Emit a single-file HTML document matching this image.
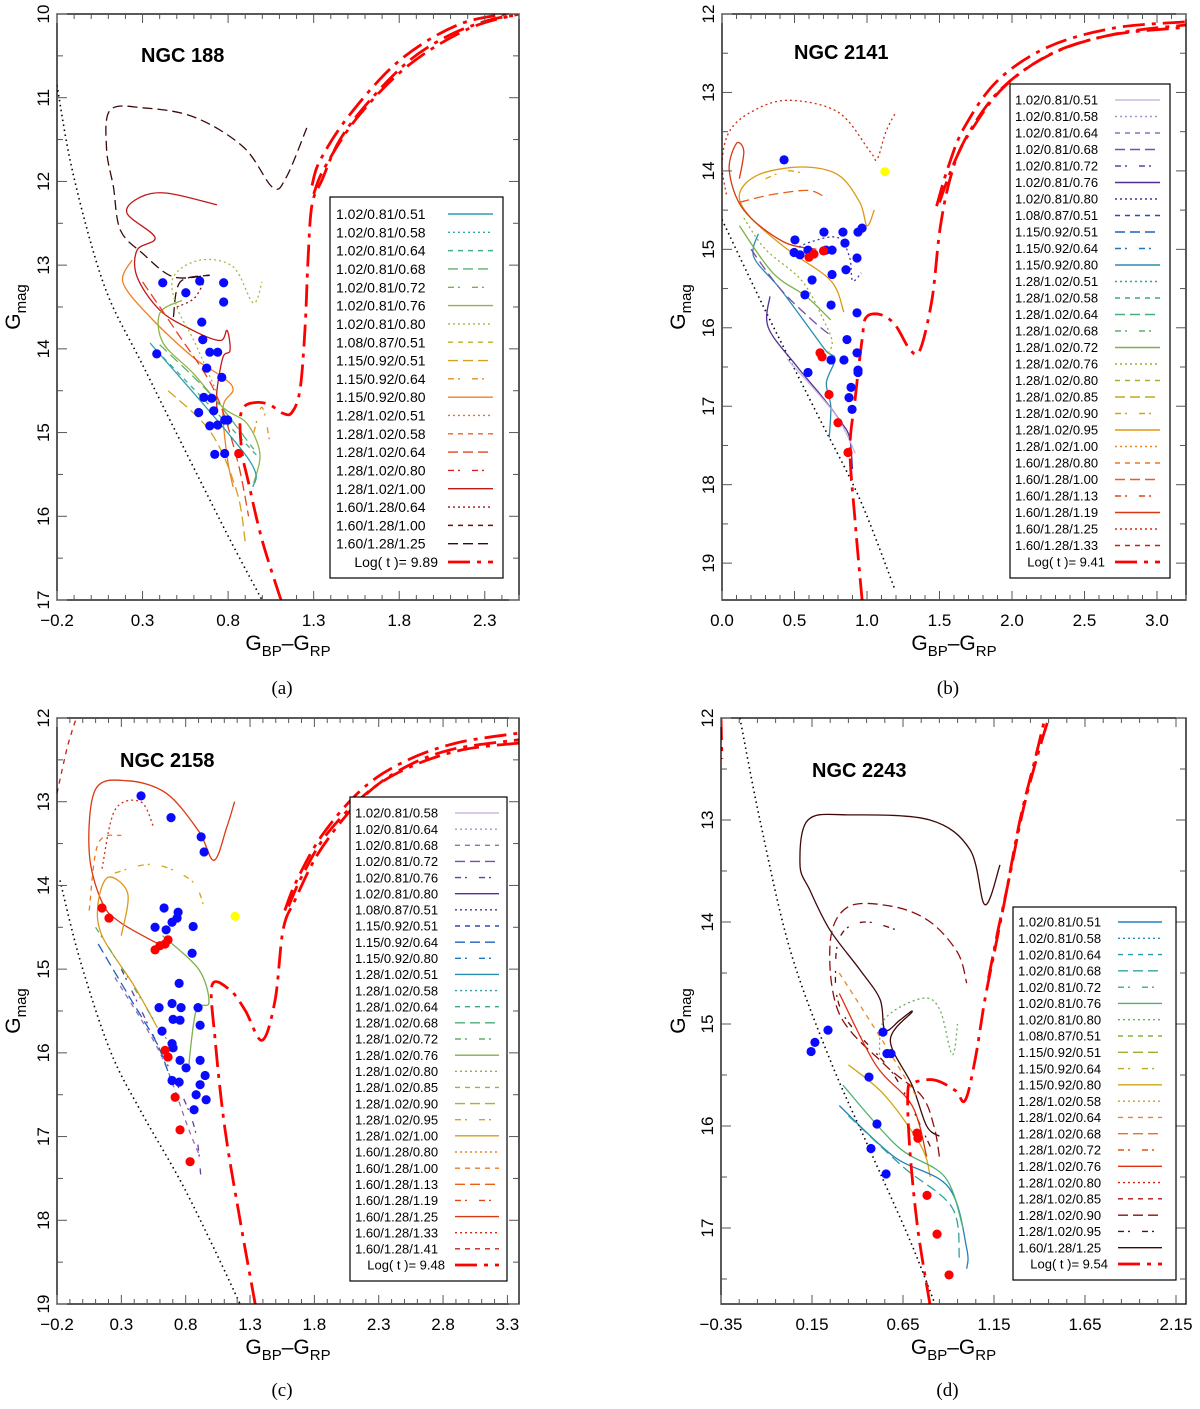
<!DOCTYPE html>
<html><head><meta charset="utf-8"><title>CMD panels</title>
<style>
html,body{margin:0;padding:0;background:#fff;}
svg{display:block;font-family:"Liberation Sans",sans-serif;}
.cap{font-family:"Liberation Serif",serif;font-size:19px;}
</style></head>
<body>
<svg id="fig" width="1200" height="1409" viewBox="0 0 1200 1409" xmlns="http://www.w3.org/2000/svg"></svg>
<script>
// ================= DATA =================
// Panel A: NGC 188
const aBlueX=[0.418,0.634,0.774,0.553,0.774,0.383,0.646,0.652,0.693,0.739,0.675,0.763,0.658,0.704,0.716,0.628,0.739,0.693,0.780,0.798,0.722,0.780];
const aBlueY=[13.21,13.19,13.21,13.33,13.44,14.06,13.68,13.89,14.04,14.04,14.23,14.34,14.58,14.59,14.74,14.76,14.91,14.92,14.85,14.85,15.26,15.25];
const aRedX=[0.862];
const aRedY=[15.25];
const aYelX=[];
const aYelY=[];
const aIso=[[1.109,17.0],[0.998,16.28],[0.916,15.57],[0.881,15.24],[0.870,14.85],[0.899,14.68],[0.975,14.64],[1.045,14.67],[1.121,14.77],[1.173,14.76],[1.220,14.49],[1.249,13.78],[1.267,12.94],[1.290,12.28],[1.349,11.98],[1.454,11.50],[1.629,11.03],[1.863,10.55],[2.097,10.25],[2.331,10.07],[2.5,10.01]];
const aIso2=[[1.290,12.05],[1.337,11.75],[1.512,11.20],[1.805,10.55],[2.155,10.12],[2.5,9.98]];
const aIso3=[[1.300,12.15],[1.36,11.85],[1.55,11.25],[1.85,10.62],[2.2,10.18],[2.5,10.0]];
const aZams=[[-0.2,10.85],[-0.124,11.74],[-0.007,12.70],[0.110,13.42],[0.285,14.13],[0.460,14.85],[0.636,15.57],[0.811,16.28],[0.998,17.0]];
const aLegend=["1.02/0.81/0.51","1.02/0.81/0.58","1.02/0.81/0.64","1.02/0.81/0.68","1.02/0.81/0.72","1.02/0.81/0.76","1.02/0.81/0.80","1.08/0.87/0.51","1.15/0.92/0.51","1.15/0.92/0.64","1.15/0.92/0.80","1.28/1.02/0.51","1.28/1.02/0.58","1.28/1.02/0.64","1.28/1.02/0.80","1.28/1.02/1.00","1.60/1.28/0.64","1.60/1.28/1.00","1.60/1.28/1.25"];
const aAge="Log( t )= 9.89";
const aTrackIdx=[18,15,6,10,5,0,3,13,8,16,2,9];
const aTrackPts=[
 [[0.48,13.62],[0.52,13.2],[0.69,13.12],[0.48,13.14],[0.30,12.86],[0.17,12.58],[0.13,12.07],[0.09,11.62],[0.11,11.15],[0.30,11.12],[0.60,11.23],[0.89,11.59],[1.06,12.07],[1.14,11.95],[1.26,11.36]],
 [[0.735,12.28],[0.443,12.14],[0.285,12.19],[0.209,12.38],[0.373,12.67],[0.268,12.82],[0.268,13.14],[0.402,13.54],[0.595,13.78],[0.753,13.90],[0.794,13.78],[0.811,14.02],[0.770,14.10],[0.735,14.49],[0.735,14.73]],
 [[0.73,14.5],[0.60,13.9],[0.50,13.5],[0.48,13.14],[0.636,12.94],[0.829,13.02],[0.946,13.45],[0.998,13.20]],
 [[0.238,12.94],[0.186,13.21],[0.344,13.62],[0.595,14.10],[0.770,14.34],[0.829,14.49],[0.770,14.70],[0.794,15.29],[0.829,15.65]],
 [[0.531,13.42],[0.402,13.57],[0.420,13.93],[0.595,14.29],[0.770,14.70],[0.910,14.89],[0.986,15.25],[0.95,15.6]],
 [[0.344,13.93],[0.91,15.29],[0.946,15.65]],
 [[0.40,13.95],[0.70,14.55],[0.95,15.2]],
 [[0.30,13.2],[0.50,13.8],[0.72,14.5],[0.85,15.3],[0.92,16.0]],
 [[0.45,14.5],[0.70,15.0],[0.85,15.7],[0.90,16.3]],
 [[0.50,13.5],[0.60,13.4],[0.66,13.2]],
 [[0.42,14.1],[0.75,14.8],[0.98,15.3]],
 [[0.95,15.0],[1.00,14.7],[1.05,15.2]]
];

// Panel B: NGC 2141
const bBlueX=[0.428,0.503,0.703,0.834,0.938,0.966,0.497,0.538,0.593,0.717,0.759,0.848,0.931,0.621,0.572,0.759,0.855,0.752,0.931,0.862,0.931,0.841,0.938,0.593,0.938,0.890,0.876,0.897,0.752];
const bBlueY=[13.86,14.88,14.78,14.78,14.78,14.73,15.04,15.07,15.01,15.01,15.01,14.92,15.11,15.39,15.58,15.32,15.26,15.71,15.81,16.15,16.32,16.41,16.54,16.57,16.57,16.76,16.89,17.04,16.41];
const bRedX=[0.676,0.69,0.738,0.80,0.869,0.634,0.60,0.70];
const bRedY=[16.32,16.37,16.85,17.21,17.59,15.06,15.10,15.02];
const bYelX=[1.124];
const bYelY=[14.01];
const bIso=[[0.966,19.47],[0.917,18.45],[0.883,17.55],[0.917,16.92],[0.966,16.15],[0.993,15.87],[1.09,15.83],[1.193,15.96],[1.297,16.28],[1.366,16.28],[1.448,15.64],[1.503,14.75],[1.572,14.11],[1.676,13.60],[1.917,12.97],[2.262,12.52],[2.676,12.27],[3.2,12.17]];
const bIso2=[[1.48,14.45],[1.56,13.95],[1.67,13.45],[1.90,12.85],[2.25,12.42],[2.70,12.18],[3.2,12.1]];
const bIso3=[[1.50,14.40],[1.60,13.90],[1.72,13.48],[1.95,12.92],[2.30,12.48],[2.75,12.24],[3.2,12.14]];
const bZams=[[0,14.62],[0.262,15.64],[0.469,16.41],[0.676,17.17],[0.952,18.19],[1.193,19.34]];
const bLegend=["1.02/0.81/0.51","1.02/0.81/0.58","1.02/0.81/0.64","1.02/0.81/0.68","1.02/0.81/0.72","1.02/0.81/0.76","1.02/0.81/0.80","1.08/0.87/0.51","1.15/0.92/0.51","1.15/0.92/0.64","1.15/0.92/0.80","1.28/1.02/0.51","1.28/1.02/0.58","1.28/1.02/0.64","1.28/1.02/0.68","1.28/1.02/0.72","1.28/1.02/0.76","1.28/1.02/0.80","1.28/1.02/0.85","1.28/1.02/0.90","1.28/1.02/0.95","1.28/1.02/1.00","1.60/1.28/0.80","1.60/1.28/1.00","1.60/1.28/1.13","1.60/1.28/1.19","1.60/1.28/1.25","1.60/1.28/1.33"];
const bAge="Log( t )= 9.41";
const bTrackIdx=[26,20,25,10,5,0,16,15,6,23,3,19];
const bTrackPts=[
 [[0.03,14.3],[0.0,13.9],[0.05,13.5],[0.2,13.25],[0.45,13.1],[0.80,13.25],[1.02,13.75],[1.07,13.85],[1.13,13.5],[1.2,13.25]],
 [[0.84,15.8],[0.75,15.4],[0.45,15.0],[0.2,14.6],[0.12,14.3],[0.25,14.05],[0.55,13.95],[0.80,14.05],[0.95,14.4],[1.0,14.7],[1.05,14.5]],
 [[0.65,15.0],[0.42,14.9],[0.15,14.5],[0.05,14.0],[0.10,13.65],[0.15,13.75],[0.12,14.1]],
 [[0.25,14.8],[0.22,15.1],[0.40,15.5],[0.62,16.05],[0.72,16.3],[0.78,16.4],[0.72,16.7],[0.75,17.0],[0.74,17.4]],
 [[0.33,15.6],[0.32,16.0],[0.52,16.5],[0.70,16.9],[0.82,17.2],[0.88,17.4],[0.90,17.8]],
 [[0.45,16.4],[0.78,17.1],[0.92,17.6]],
 [[0.15,14.6],[0.30,15.0],[0.55,15.4],[0.70,15.9],[0.76,16.2],[0.70,16.4]],
 [[0.12,14.7],[0.35,15.3],[0.58,15.6],[0.75,15.9]],
 [[0.5,15.0],[0.62,14.9],[0.80,14.85],[0.88,15.1],[0.90,15.4],[0.96,15.3]],
 [[0.12,14.4],[0.35,14.3],[0.60,14.25],[0.72,14.35]],
 [[0.20,15.0],[0.40,15.5],[0.62,15.9],[0.75,16.1]],
 [[0.30,14.1],[0.45,14.0],[0.60,14.05]]
];

// Panel C: NGC 2158
const cBlueX=[0.453,0.686,0.920,0.943,0.632,0.741,0.694,0.733,0.858,0.562,0.648,0.850,0.749,0.694,0.764,0.593,0.702,0.756,0.616,0.896,0.912,0.694,0.702,0.756,0.912,0.951,0.749,0.694,0.912,0.881,0.959,0.803,0.865];
const cBlueY=[12.93,13.19,13.42,13.60,14.27,14.32,14.44,14.39,14.49,14.50,14.53,14.81,15.17,15.41,15.46,15.46,15.60,15.61,15.74,15.46,15.67,15.89,15.94,16.09,16.09,16.27,16.35,16.33,16.38,16.50,16.56,16.18,16.68];
const cRedX=[0.15,0.204,0.562,0.60,0.64,0.663,0.64,0.663,0.718,0.756,0.834];
const cRedY=[14.27,14.39,14.77,14.72,14.70,14.65,15.97,16.05,16.53,16.92,17.30];
const cYelX=[1.184];
const cYelY=[14.37];
const cIso=[[1.34,19.0],[1.223,18.0],[1.106,16.92],[1.029,15.85],[1.005,15.19],[1.145,15.25],[1.262,15.49],[1.394,15.85],[1.495,15.37],[1.557,14.53],[1.651,14.17],[1.845,13.58],[2.156,12.98],[2.467,12.62],[2.856,12.38],[3.39,12.26]];
const cIso2=[[1.57,14.30],[1.66,13.95],[1.86,13.40],[2.17,12.85],[2.5,12.52],[2.9,12.30],[3.39,12.18]];
const cIso3=[[1.60,14.25],[1.70,13.90],[1.90,13.38],[2.22,12.88],[2.55,12.58],[2.95,12.38],[3.39,12.3]];
const cZams=[[-0.177,13.94],[-0.021,14.89],[0.212,15.97],[0.445,16.68],[0.756,17.52],[0.99,18.24],[1.223,19.0]];
const cLegend=["1.02/0.81/0.58","1.02/0.81/0.64","1.02/0.81/0.68","1.02/0.81/0.72","1.02/0.81/0.76","1.02/0.81/0.80","1.08/0.87/0.51","1.15/0.92/0.51","1.15/0.92/0.64","1.15/0.92/0.80","1.28/1.02/0.51","1.28/1.02/0.58","1.28/1.02/0.64","1.28/1.02/0.68","1.28/1.02/0.72","1.28/1.02/0.76","1.28/1.02/0.80","1.28/1.02/0.85","1.28/1.02/0.90","1.28/1.02/0.95","1.28/1.02/1.00","1.60/1.28/0.80","1.60/1.28/1.00","1.60/1.28/1.13","1.60/1.28/1.19","1.60/1.28/1.25","1.60/1.28/1.33","1.60/1.28/1.41"];
const cAge="Log( t )= 9.48";
const cTrackIdx=[25,27,19,20,4,2,8,14,26,22,15];
const cTrackPts=[
 [[0.65,14.75],[0.3,14.45],[0.15,14.2],[0.05,13.6],[0.10,12.85],[0.35,12.75],[0.65,12.9],[0.90,13.35],[1.02,13.7],[1.12,13.3],[1.18,13.0]],
 [[-0.2,12.9],[-0.12,12.35],[-0.05,12.0]],
 [[0.25,13.85],[0.55,13.75],[0.85,13.95],[0.95,14.3]],
 [[0.58,15.7],[0.40,15.2],[0.15,14.6],[0.12,14.2],[0.20,13.9],[0.35,14.1],[0.30,14.6]],
 [[0.30,15.0],[0.55,15.8],[0.85,16.8],[0.92,17.5]],
 [[0.25,15.1],[0.60,16.0],[0.82,16.9],[0.90,17.2]],
 [[0.12,14.7],[0.35,15.3],[0.58,15.9],[0.70,16.4]],
 [[0.1,14.5],[0.35,15.1],[0.55,15.6],[0.68,15.9]],
 [[0.15,13.8],[0.25,13.1],[0.45,13.0],[0.55,13.3]],
 [[0.05,14.3],[0.12,13.5],[0.30,13.4]],
 [[0.62,14.6],[0.90,15.0],[0.98,15.4],[0.88,15.5],[0.82,16.2]]
];

// Panel D: NGC 2243
const dBlueX=[0.166,0.145,0.238,0.540,0.562,0.584,0.463,0.507,0.474,0.557];
const dBlueY=[15.18,15.27,15.06,15.08,15.29,15.29,15.52,15.98,16.22,16.47];
const dRedX=[0.727,0.732,0.782,0.837,0.903];
const dRedY=[16.07,16.12,16.68,17.06,17.46];
const dYelX=[];
const dYelY=[];
const dIso=[[0.798,17.745],[0.732,17.02],[0.688,16.24],[0.677,15.65],[0.716,15.57],[0.826,15.55],[0.936,15.65],[0.991,15.75],[1.046,15.35],[1.10,14.76],[1.155,14.27],[1.21,13.78],[1.293,13.0],[1.375,12.41],[1.43,12.0]];
const dIso2=[[1.12,14.55],[1.17,14.1],[1.23,13.6],[1.31,12.9],[1.40,12.3],[1.46,11.95]];
const dIso3=[[-0.35,12.0],[-0.345,12.4]];
const dZams=[[-0.246,12.0],[-0.136,13.0],[0.029,14.27],[0.249,15.35],[0.469,16.24],[0.688,17.12],[0.826,17.745]];
const dLegend=["1.02/0.81/0.51","1.02/0.81/0.58","1.02/0.81/0.64","1.02/0.81/0.68","1.02/0.81/0.72","1.02/0.81/0.76","1.02/0.81/0.80","1.08/0.87/0.51","1.15/0.92/0.51","1.15/0.92/0.64","1.15/0.92/0.80","1.28/1.02/0.58","1.28/1.02/0.64","1.28/1.02/0.68","1.28/1.02/0.72","1.28/1.02/0.76","1.28/1.02/0.80","1.28/1.02/0.85","1.28/1.02/0.90","1.28/1.02/0.95","1.60/1.28/1.25"];
const dAge="Log( t )= 9.54";
const dTrackIdx=[20,18,19,6,10,15,0,5,3,12];
const dTrackPts=[
 [[0.85,16.1],[0.78,16.0],[0.70,15.6],[0.58,15.16],[0.70,14.88],[0.634,14.96],[0.551,15.06],[0.524,14.76],[0.414,14.47],[0.249,14.08],[0.139,13.69],[0.084,13.44],[0.128,13.0],[0.359,12.95],[0.798,13.0],[1.018,13.29],[1.10,13.83],[1.183,13.44]],
 [[0.85,16.3],[0.82,16.0],[0.75,15.7],[0.55,15.4],[0.30,14.9],[0.25,14.2],[0.35,13.85],[0.60,13.85],[0.80,14.0],[0.95,14.3],[1.0,14.6]],
 [[0.80,16.2],[0.60,15.5],[0.32,14.9],[0.28,14.4],[0.32,14.1],[0.45,14.0],[0.65,14.1]],
 [[0.52,15.3],[0.55,14.95],[0.75,14.75],[0.85,14.85],[0.92,15.3],[0.95,15.0]],
 [[0.35,15.4],[0.55,15.7],[0.75,16.2],[0.80,16.5]],
 [[0.30,14.7],[0.50,15.4],[0.70,15.8],[0.78,16.3]],
 [[0.30,15.8],[0.60,16.3],[0.90,16.6],[1.0,17.2],[1.0,17.4]],
 [[0.32,15.6],[0.62,16.2],[0.88,16.5],[0.98,17.0]],
 [[0.35,15.9],[0.65,16.4],[0.92,16.8],[0.96,17.3]],
 [[0.30,14.5],[0.55,15.2],[0.72,15.7]]
];

// ================= STYLE / LAYOUT =================
const panels=[
 {key:'a',title:'NGC 188',cap:'(a)',x0:57,x1:519,y0:14,y1:600,xmin:-0.2,xmax:2.5,ymin:10,ymax:17,xt0:-0.2,xt1:2.3,xdec:1,ymaj:1,ymin2:0.5,
  titleX:141,titleY:62,ytitleX:20,leg:{bx0:330,by0:197,bx1:503,by1:578,fy:214,fs:14,tx:336,lx0:448,lx1:493},
  pal:['#2a9fb0','#40b090','#7ab050','#a8b838','#d4a020','#f08020','#f06020','#e02020','#a01010','#3a0a0a'],
  blueX:aBlueX,blueY:aBlueY,redX:aRedX,redY:aRedY,yelX:aYelX,yelY:aYelY,iso:[aIso,aIso2,aIso3],zams:aZams,legend:aLegend,age:aAge,tIdx:aTrackIdx,tPts:aTrackPts},
 {key:'b',title:'NGC 2141',cap:'(b)',x0:722,x1:1186,y0:14,y1:600,xmin:0,xmax:3.2,ymin:12,ymax:19.47,xt0:0,xt1:3.0,xdec:1,ymaj:1,ymin2:0.5,
  titleX:794,titleY:59,ytitleX:685,leg:{bx0:1010,by0:84,bx1:1170,by1:578,fy:100,fs:13,tx:1015,lx0:1115,lx1:1160},
  pal:['#c8b8e0','#8050b0','#4a2890','#2060c0','#2aa0a8','#50b070','#a0b030','#d0a810','#f08020','#e04010','#c82010'],
  blueX:bBlueX,blueY:bBlueY,redX:bRedX,redY:bRedY,yelX:bYelX,yelY:bYelY,iso:[bIso,bIso2,bIso3],zams:bZams,legend:bLegend,age:bAge,tIdx:bTrackIdx,tPts:bTrackPts},
 {key:'c',title:'NGC 2158',cap:'(c)',x0:57,x1:519,y0:718,y1:1304,xmin:-0.2,xmax:3.39,ymin:12,ymax:19,xt0:-0.2,xt1:3.3,xdec:1,ymaj:1,ymin2:0.5,
  titleX:120,titleY:767,ytitleX:20,leg:{bx0:350,by0:797,bx1:507,by1:1281,fy:813,fs:13,tx:355,lx0:455,lx1:499},
  pal:['#c8b8e0','#8050b0','#4a2890','#2060c0','#2aa0a8','#50b070','#a0b030','#d0a810','#f08020','#e04010','#c82010'],
  blueX:cBlueX,blueY:cBlueY,redX:cRedX,redY:cRedY,yelX:cYelX,yelY:cYelY,iso:[cIso,cIso2,cIso3],zams:cZams,legend:cLegend,age:cAge,tIdx:cTrackIdx,tPts:cTrackPts},
 {key:'d',title:'NGC 2243',cap:'(d)',x0:721,x1:1186,y0:718,y1:1304,xmin:-0.35,xmax:2.205,ymin:12,ymax:17.745,xt0:-0.35,xt1:2.15,xdec:2,ymaj:1,ymin2:0.5,
  titleX:812,titleY:777,ytitleX:685,leg:{bx0:1013,by0:907,bx1:1176,by1:1280,fy:922,fs:13,tx:1018,lx0:1118,lx1:1162},
  pal:['#2080c0','#2aa0a8','#50b070','#90b030','#d0a810','#f08020','#e03010','#a01010','#400808'],
  blueX:dBlueX,blueY:dBlueY,redX:dRedX,redY:dRedY,yelX:dYelX,yelY:dYelY,iso:[dIso,dIso2,dIso3],zams:dZams,legend:dLegend,age:dAge,tIdx:dTrackIdx,tPts:dTrackPts}
];
const dashes=[null,'2,3','5,5','10,5','6,4,2,12'];
const NS='http://www.w3.org/2000/svg';
const fig=document.getElementById('fig');
function mk(tag,attrs,parent){const e=document.createElementNS(NS,tag);for(const k in attrs)e.setAttribute(k,attrs[k]);(parent||fig).appendChild(e);return e;}
function hex2rgb(h){return [parseInt(h.substr(1,2),16),parseInt(h.substr(3,2),16),parseInt(h.substr(5,2),16)];}
function palColor(pal,t){const n=pal.length-1;const f=t*n;const i=Math.min(Math.floor(f),n-1);const r=f-i;const a=hex2rgb(pal[i]),b=hex2rgb(pal[i+1]);return 'rgb('+a.map((v,k)=>Math.round(v+(b[k]-v)*r)).join(',')+')';}

panels.forEach(p=>{
  const sx=v=>p.x0+(v-p.xmin)/(p.xmax-p.xmin)*(p.x1-p.x0);
  const sy=v=>p.y0+(v-p.ymin)/(p.ymax-p.ymin)*(p.y1-p.y0);
  const g=mk('g',{});
  
  
  const cp=mk('clipPath',{id:'clip-'+p.key},g);
  mk('rect',{x:p.x0,y:p.y0,width:p.x1-p.x0,height:p.y1-p.y0},cp);
  const plot=mk('g',{'clip-path':'url(#clip-'+p.key+')'},g);
  
  
  // smooth Catmull-Rom path
  const path=pts=>{
    const P=pts.map(q=>[sx(q[0]),sy(q[1])]);
    if(P.length<3)return P.map((q,i)=>(i?'L':'M')+q[0].toFixed(1)+' '+q[1].toFixed(1)).join(' ');
    let d='M'+P[0][0].toFixed(1)+' '+P[0][1].toFixed(1);
    for(let i=0;i<P.length-1;i++){
      const p0=P[Math.max(i-1,0)],p1=P[i],p2=P[i+1],p3=P[Math.min(i+2,P.length-1)];
      const c1=[p1[0]+(p2[0]-p0[0])/6,p1[1]+(p2[1]-p0[1])/6];
      const c2=[p2[0]-(p3[0]-p1[0])/6,p2[1]-(p3[1]-p1[1])/6];
      d+=' C'+c1[0].toFixed(1)+' '+c1[1].toFixed(1)+' '+c2[0].toFixed(1)+' '+c2[1].toFixed(1)+' '+p2[0].toFixed(1)+' '+p2[1].toFixed(1);
    }
    return d;
  };
  const styleOf=i=>({c:palColor(p.pal,i/(p.legend.length-1)),d:dashes[i%5]});
  const z=mk('path',{d:path(p.zams),fill:'none',stroke:'#000','stroke-width':1.6,'stroke-dasharray':'1.5,3.5'},plot);
  
  
  p.tPts.forEach((pts,k)=>{
    const s=styleOf(p.tIdx[k]);
    const e=mk('path',{d:path(pts),fill:'none',stroke:s.c,'stroke-width':1.3},plot);
    if(s.d)e.setAttribute('stroke-dasharray',s.d);
    
    
  });
  p.iso.forEach(iso=>{
    const e=mk('path',{d:path(iso),fill:'none',stroke:'#ff0000','stroke-width':2.8,'stroke-dasharray':'22,7,4,7'},plot);
    
    
  });
  const dots=(X,Y,col,nm)=>X.forEach((v,i)=>{
    const c=mk('circle',{cx:sx(v),cy:sy(Y[i]),r:4.6,fill:col},plot);
    
    
  });
  dots(p.blueX,p.blueY,'#0a0aff','member-star');
  dots(p.redX,p.redY,'#ff0000','red-star');
  dots(p.yelX,p.yelY,'#ffff00','yellow-star');
  const fr=mk('rect',{x:p.x0,y:p.y0,width:p.x1-p.x0,height:p.y1-p.y0,fill:'none',stroke:'#000','stroke-width':1.3},g);
  
  
  const tk=mk('g',{stroke:'#555','stroke-width':1},g);
  
  
  const nMinor=Math.round((p.xmax-p.xmin)/0.1)+2;
  for(let i=-2;i<nMinor;i++){
    const v=p.xt0+i*0.1; if(v<p.xmin-1e-6||v>p.xmax+1e-6)continue;
    const major=Math.abs(Math.round((v-p.xt0)/0.5)*0.5-(v-p.xt0))<1e-6;
    const L=major?9:5;const x=sx(v);
    mk('line',{x1:x,x2:x,y1:p.y1,y2:p.y1-L},tk);mk('line',{x1:x,x2:x,y1:p.y0,y2:p.y0+L},tk);
    if(major&&v<=p.xt1+1e-6){
      const t=mk('text',{x:x,y:p.y1+26,'font-size':17,'text-anchor':'middle',fill:'#000',stroke:'none'},g);
      t.textContent=(v<0?'\u2212':'')+Math.abs(v).toFixed(p.xdec);
      
      
    }
  }
  for(let v=Math.ceil(p.ymin*2)/2;v<=p.ymax+1e-6;v+=p.ymin2){
    const major=Math.abs(v-Math.round(v))<1e-6;const L=major?10:6;const y=sy(v);
    mk('line',{x1:p.x0,x2:p.x0+L,y1:y,y2:y},tk);mk('line',{x1:p.x1,x2:p.x1-L,y1:y,y2:y},tk);
    if(major){
      const t=mk('text',{x:0,y:0,'font-size':17,'text-anchor':'middle',fill:'#000',stroke:'none',transform:'translate('+(p.x0-8)+','+y+') rotate(-90)'},g);
      t.textContent=String(Math.round(v));
      
      
    }
  }
  const xt=mk('text',{x:(p.x0+p.x1)/2,y:p.y1+50,'font-size':21,'text-anchor':'middle',fill:'#000'},g);
  xt.innerHTML='G<tspan font-size="15" dy="6">BP</tspan><tspan dy="-6">\u2013G</tspan><tspan font-size="15" dy="6">RP</tspan>';
  
  
  const yt=mk('text',{x:0,y:0,'font-size':21,'text-anchor':'middle',fill:'#000',transform:'translate('+p.ytitleX+','+((p.y0+p.y1)/2)+') rotate(-90)'},g);
  yt.innerHTML='G<tspan font-size="15" dy="6">mag</tspan>';
  
  
  const ti=mk('text',{x:p.titleX,y:p.titleY,'font-size':20,'font-weight':'bold',fill:'#000'},g);
  ti.textContent=p.title;
  
  
  const ca=mk('text',{x:(p.x0+p.x1)/2-6,y:p.key<'c'?694:1396,'text-anchor':'middle',class:'cap'},g);
  ca.textContent=p.cap;
  
  
  const L=p.leg;
  const lg=mk('g',{},g);
  
  
  mk('rect',{x:L.bx0,y:L.by0,width:L.bx1-L.bx0,height:L.by1-L.by0,fill:'#fff',stroke:'#000','stroke-width':1.2},lg);
  const n=p.legend.length;const step=(L.by1-L.fy-16)/n;
  p.legend.forEach((nm,i)=>{
    const y=L.fy+i*step;const s=styleOf(i);
    const e=mk('g',{},lg);
    
    
    const t=mk('text',{x:L.tx,y:y+L.fs*0.36,'font-size':L.fs,fill:'#000'},e);t.textContent=nm;
    const ln=mk('line',{x1:L.lx0,x2:L.lx1,y1:y,y2:y,stroke:s.c,'stroke-width':1.4},e);
    if(s.d)ln.setAttribute('stroke-dasharray',s.d);
  });
  const y=L.fy+n*step;
  const e=mk('g',{},lg);
  
  
  const t=mk('text',{x:L.lx0-10,y:y+L.fs*0.36,'font-size':L.fs,'text-anchor':'end',fill:'#000'},e);t.textContent=p.age;
  mk('line',{x1:L.lx0,x2:L.lx1,y1:y,y2:y,stroke:'#ff0000','stroke-width':2.8,'stroke-dasharray':'22,7,4,7'},e);
});
</script>
</body></html>
